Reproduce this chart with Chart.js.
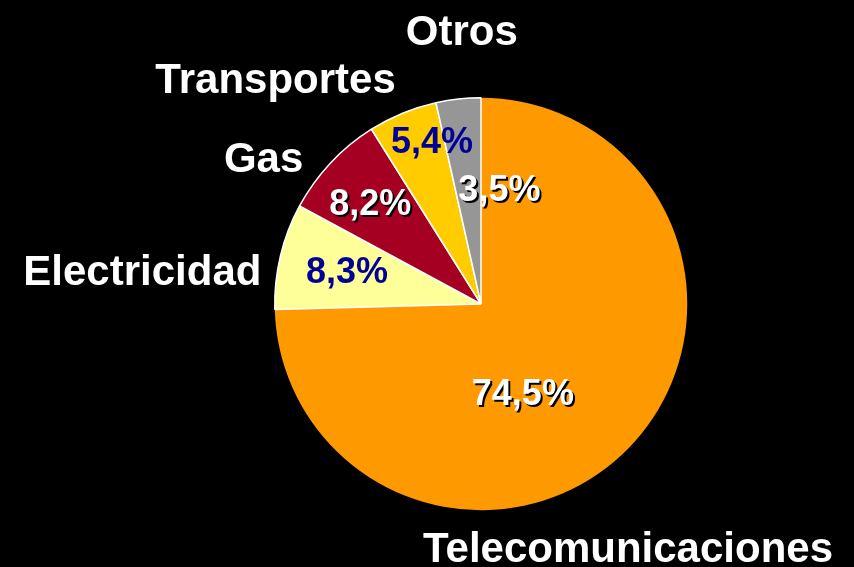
<!DOCTYPE html>
<html>
<head>
<meta charset="utf-8">
<script src="https://cdn.jsdelivr.net/npm/chart.js@4"></script>
<style>
  html, body { margin: 0; padding: 0; background: #000; }
  #wrap { width: 854px; height: 567px; }
</style>
</head>
<body>
<div id="wrap"><canvas id="share-chart"></canvas></div>
<script>
const categories = ['Telecomunicaciones', 'Electricidad', 'Gas', 'Transportes', 'Otros']
const shares = [74.5, 8.3, 8.2, 5.4, 3.5]
const percentLabels = ['74,5%', '8,3%', '8,2%', '5,4%', '3,5%']

const sliceColors = ['#FF9900', '#FFFF99', '#A50021', '#FFCC00', '#969696']
const percentColors = ['#FFFFFF', '#000099', '#FFFFFF', '#000099', '#FFFFFF']

// label placement around each slice: [angle in degrees, radius as fraction of pie radius]
const percentPlace = [[64.7, 0.475], [194.1, 0.67], [222.6, 0.73], [253.4, 0.83], [279, 0.57]]
const namePlace = [[58.9, 1.38], [185.7, 1.65], [213.9, 1.27], [227.7, 1.48], [266, 1.33]]

const FONT = 'bold 36px "Liberation Sans", Arial, sans-serif'
const NAME_FONT = 'bold 42px "Liberation Sans", Arial, sans-serif'
const TEXT_NUDGE = 3

const pieLabels = {
    id: 'pieLabels',
    afterDatasetsDraw(chart) {
        const meta = chart.getDatasetMeta(0)
        const arc0 = meta.data[0]
        const cx = arc0.x
        const cy = arc0.y
        const r = arc0.outerRadius
        const ctx = chart.ctx
        ctx.save()
        ctx.textAlign = 'center'
        ctx.textBaseline = 'middle'

        meta.data.forEach((arc, i) => {
            const [pa, pr] = percentPlace[i]
            const px = cx + Math.cos(pa * Math.PI / 180) * r * pr
            const py = cy + Math.sin(pa * Math.PI / 180) * r * pr + TEXT_NUDGE
            ctx.font = FONT
            if (percentColors[i] === '#FFFFFF') {
                ctx.fillStyle = '#000000'
                ctx.fillText(percentLabels[i], px + 2, py + 2)
            }
            ctx.fillStyle = percentColors[i]
            ctx.fillText(percentLabels[i], px, py)

            const [na, nr] = namePlace[i]
            const nx = cx + Math.cos(na * Math.PI / 180) * r * nr
            const ny = cy + Math.sin(na * Math.PI / 180) * r * nr + TEXT_NUDGE
            ctx.font = NAME_FONT
            ctx.fillStyle = '#FFFFFF'
            ctx.fillText(categories[i], nx, ny)
        })
        ctx.restore()
    }
}

const share_chart = () => {
    const ctx = document.getElementById('share-chart')

    new Chart(ctx, {
        type: 'pie',
        data: {
            labels: categories,
            datasets: [{
                data: shares,
                backgroundColor: sliceColors,
                borderColor: '#FFFFFF',
                borderWidth: [0, 1.5, 1.5, 1.5, 1.5],
                hoverOffset: 0,
            }],
        },
        options: {
            responsive: true,
            maintainAspectRatio: false,
            animation: false,
            layout: {
                padding: { top: 97, bottom: 56, left: 274, right: 166 },
            },
            plugins: {
                legend: { display: false },
                tooltip: { enabled: false },
            },
        },
        plugins: [pieLabels],
    })
}

share_chart()
</script>
</body>
</html>
